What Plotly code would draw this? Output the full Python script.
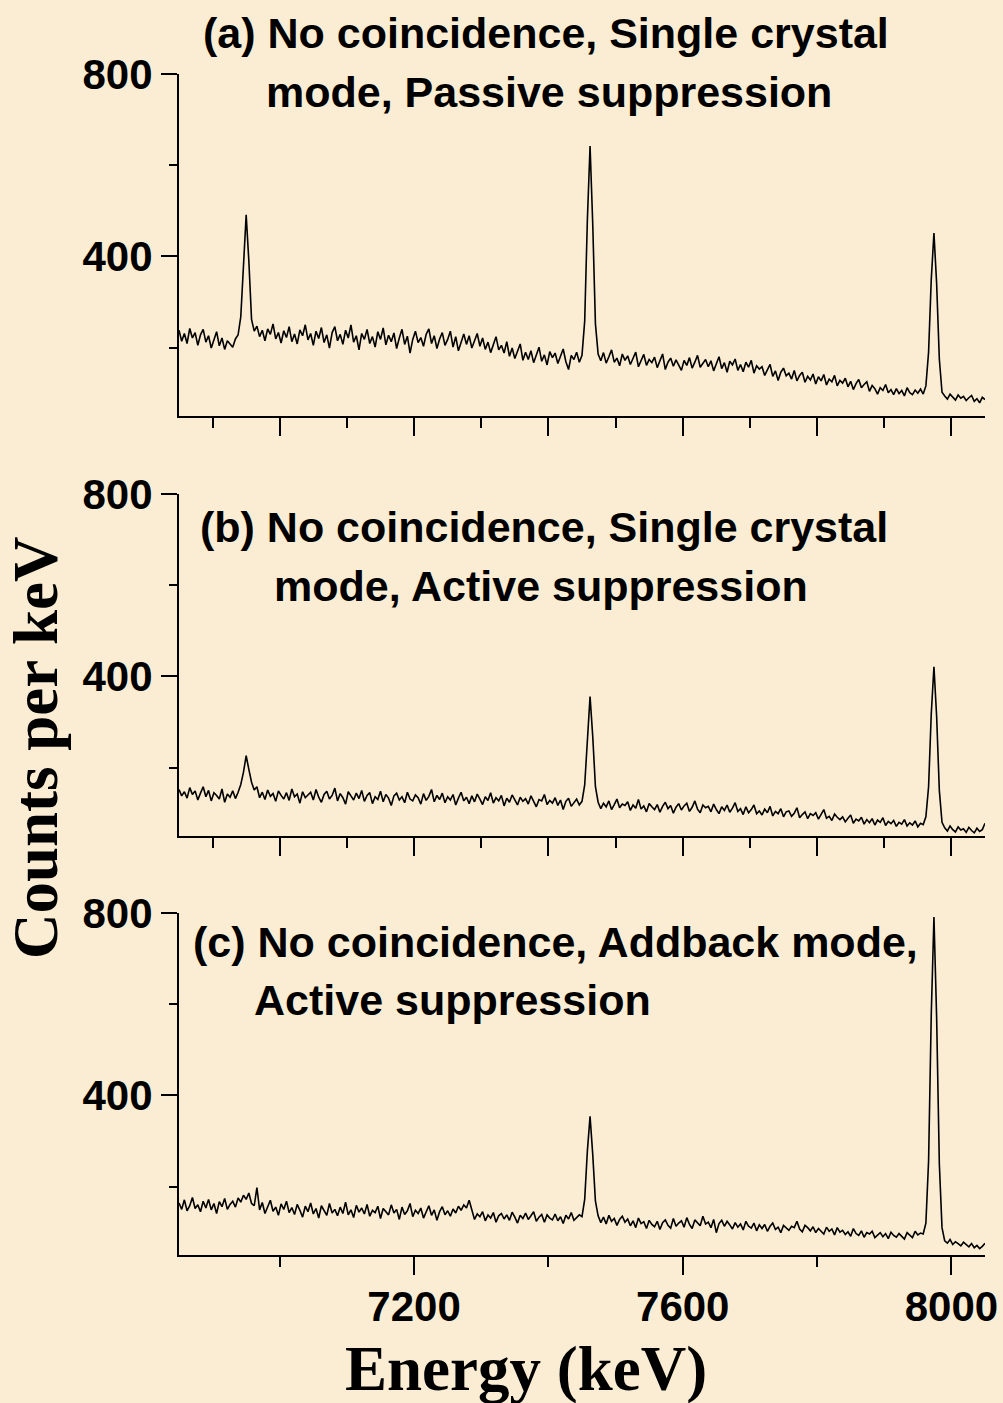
import plotly.graph_objects as go

# ---------------- data ----------------
ENERGY = list(range(6850, 8051, 4))  # channel energies (keV)

counts_a = [
    238, 214, 231, 209, 242, 221, 233, 205, 228, 240,
    212, 226, 199, 218, 235, 204, 221, 196, 215, 208,
    201, 219,
    228, 268, 395, 491, 390, 262, 236,
    247, 224, 238, 215, 241, 229, 252, 219, 233, 210, 237,
    222, 246, 213, 230, 208, 239, 226, 250, 217, 231,
    205, 236, 220, 244, 211, 228, 199, 233, 246, 215,
    229, 207, 238, 221, 250, 212, 226, 195, 231, 218,
    240, 209, 224, 201, 235, 218, 243, 206, 227, 213,
    232, 198, 221, 240, 207, 225, 188, 218, 236, 211,
    222, 203, 229, 241, 209, 226, 198, 219, 233, 205,
    218, 236, 201, 224, 193, 214, 230, 207, 226, 199,
    216, 231, 203, 221, 196, 212, 189, 208, 224, 195,
    205, 188, 213, 181, 199, 176, 194, 208, 172, 190,
    174, 193, 167, 186, 201, 170, 184, 162, 191, 178,
    188, 165, 181, 197, 169, 152, 183, 174, 190, 168,
    183, 258, 480, 642, 470, 252, 186,
    171, 189, 166, 180, 195, 168, 177, 160, 186, 172,
    182, 163, 176, 190, 158, 171, 185, 161, 174, 167,
    179, 156, 170, 186, 152, 168, 177, 159, 173, 163,
    150, 172, 161, 178, 155, 168, 183, 157, 166, 174,
    158, 171, 149, 165, 180, 154, 167, 146, 170, 162,
    175, 150, 163, 147, 168, 157, 172, 144, 160, 153,
    158, 139, 152, 163, 137, 149, 128, 146, 155, 138,
    144, 131, 150, 127, 139, 146, 124, 137, 129, 142,
    120, 136, 127, 141, 118, 131, 125, 139, 116, 128,
    122, 133, 114, 126, 108, 121, 130, 112, 119, 125,
    104, 117, 110, 98, 112, 106, 119, 101, 108, 97,
    110, 99, 106, 94, 112, 101, 97, 107,
    100, 109,
    98,
    116, 190, 350, 451, 340, 175, 102,
    94, 87, 98, 91, 85, 96, 89, 93, 84, 90, 95, 82, 88, 79, 91, 86,
]

counts_b = [
    152, 138, 147, 133, 156, 141, 149, 129, 144, 158,
    136, 150, 127, 145, 139, 131, 153, 124, 142, 135,
    149, 132, 146,
    163, 190, 226, 196, 168, 151,
    158, 134, 146, 130, 151, 137, 143, 126, 149, 139,
    131, 145, 128, 153, 136, 142, 122, 147, 134, 140,
    146, 129, 152, 135, 124, 141, 148, 131, 139, 155,
    127, 143, 134, 120, 147, 138, 129, 144, 132, 150,
    126, 139, 145, 121, 136, 130, 148, 125, 141, 133,
    117, 138, 144, 129, 136, 123, 146, 131, 127, 140,
    134, 120, 143, 128, 137, 152, 125, 139, 130, 144,
    123, 136, 129, 141, 118, 133, 146, 127, 135, 121,
    138, 125, 142, 131, 119, 136, 128, 145, 122, 134,
    127, 139, 116, 133, 124, 140, 129, 118, 135, 126,
    132, 120, 138, 125, 114, 130, 127, 141, 119, 128,
    122, 134, 117, 129, 108, 126, 133, 115, 124, 131,
    118, 126, 162, 272, 356, 268, 158, 124,
    110, 122, 114, 127, 108, 119, 131, 112, 120, 117,
    125, 106, 118, 111, 130, 109, 116, 103, 121, 114,
    108, 119, 102, 115, 124, 110, 117, 100, 113, 121,
    107, 116, 122, 104, 113, 127, 109, 101, 118, 112,
    115, 103, 120, 108, 99, 114, 106, 118, 102, 111,
    123, 104, 110, 97, 114, 101, 108, 118, 99, 105,
    96, 109, 101, 115, 94, 104, 99, 110, 92, 103,
    105, 93, 100, 112, 90, 97, 103, 88, 99, 95,
    101, 87, 96, 108, 89, 93, 84, 98, 91, 86,
    92, 81, 89, 96, 78, 87, 83, 91, 76, 86,
    79, 88, 74, 85, 80, 90, 73, 82, 77, 84,
    71, 80, 76, 86, 72, 79, 74, 83, 70, 78,
    75,
    92, 158, 318, 421, 312, 150, 80,
    68, 61, 72, 64, 59, 70, 63, 66, 58, 69, 62, 57, 67, 60, 64, 78,
]

counts_c = [
    164, 150, 171, 147, 158, 176, 152, 160, 145, 168,
    153, 172, 149, 163, 141, 167, 156, 174, 150, 161,
    168, 155, 175, 166, 181, 172, 186, 163, 158, 198,
    149, 165, 141, 158, 170, 146, 155, 137, 162, 150,
    168, 143, 154, 139, 161, 148, 133, 157, 145, 164,
    140, 152, 131, 158, 146, 137, 163, 142, 150, 136,
    155, 141, 166, 138, 149, 132, 159, 144, 153, 140,
    161, 135, 148, 143, 157, 130, 152, 145, 138, 160,
    142, 150, 128, 155, 139, 147, 163, 134, 148, 141,
    153, 131, 146, 158, 137, 149, 126, 145, 156, 138,
    147, 135, 151, 142, 157, 148, 160, 153, 170, 151,
    128, 140, 134, 145, 125, 138, 131, 143, 122, 136,
    141, 129, 138, 126, 144, 133, 120, 137, 130, 142,
    128, 136, 145, 124, 133, 139, 122, 138, 131, 127,
    140, 125, 134, 119, 137, 129, 143, 126, 133, 138,
    134, 172, 278, 354, 270, 168, 136,
    121, 133, 118, 137, 124, 130, 115, 128, 135, 122,
    129, 114, 125, 110, 131, 119, 123, 108, 126, 117,
    112, 124, 106, 121, 127, 115, 109, 130, 113, 120,
    125, 111, 132, 117, 108, 127, 121, 114, 135, 118,
    122, 110, 128, 99, 119, 126, 113, 124, 116, 107,
    121, 111, 118, 105, 124, 113, 109, 120, 103, 116,
    108, 117, 102, 113, 120, 106, 111, 99, 115, 109,
    104, 113, 110, 124, 107, 101, 115, 110, 103, 112,
    99, 108, 103, 96, 111, 102, 107, 94, 110, 100,
    104, 95, 101, 91, 108, 97, 93, 103, 89, 99,
    96, 102, 88, 94, 99, 90, 97, 86, 100, 93,
    89, 97, 92, 85, 99, 93, 88, 102, 94, 98,
    96,
    120, 256, 578, 791, 570, 250, 110,
    81, 76, 84, 73, 79, 75, 70, 78, 72, 68, 75, 66, 71, 64, 69, 76,
]

Y_TICKS = [400, 800]
Y_MINOR = [200, 600]
X_TICKS_C = [7200, 7600, 8000]
X_MINOR_C = [7000, 7400, 7800]
X_LABELS_C = ["7200", "7600", "8000"]

TITLES = {
    "a": ["(a) No coincidence, Single crystal", "mode, Passive suppression"],
    "b": ["(b) No coincidence, Single crystal", "mode, Active suppression"],
    "c": ["(c) No coincidence, Addback mode,", "Active suppression"],
}

# ---------------- figure ----------------
W, H = 1003, 1403
ML, MR, MT, MB = 179, 18, 74, 148
PW, PH = W - ML - MR, H - MT - MB


def px_x(p):
    return (p - ML) / PW


def px_y(p):
    return 1 - (p - MT) / PH


BG = "#FAEDD3"
SANS = "Liberation Sans, Arial, Helvetica, sans-serif"
SERIF = "Liberation Serif, Times New Roman, serif"

fig = go.Figure()
series = [counts_a, counts_b, counts_c]
for k, ys in enumerate(series):
    assert len(ys) == len(ENERGY), (k, len(ys))
    fig.add_trace(go.Scatter(
        x=ENERGY, y=ys, mode="lines",
        line=dict(color="black", width=1.6),
        xaxis="x" if k == 0 else f"x{k+1}",
        yaxis="y" if k == 0 else f"y{k+1}",
        showlegend=False, hoverinfo="skip",
    ))

domains = [
    (px_y(416), px_y(74)),
    (px_y(836), px_y(494)),
    (px_y(1255), px_y(913)),
]

tickfont = dict(family=SANS, size=42, color="black", weight="bold")

layout = dict(
    width=W, height=H,
    margin=dict(l=ML, r=MR, t=MT, b=MB, pad=0, autoexpand=False),
    paper_bgcolor=BG, plot_bgcolor=BG,
    showlegend=False,
)

for k in range(3):
    xa = "xaxis" if k == 0 else f"xaxis{k+1}"
    ya = "yaxis" if k == 0 else f"yaxis{k+1}"
    anchor_y = "y" if k == 0 else f"y{k+1}"
    anchor_x = "x" if k == 0 else f"x{k+1}"
    xdict = dict(
        domain=[0, 1], anchor=anchor_y, range=[6850, 8050], automargin=False,
        showline=True, linecolor="black", linewidth=2.2,
        showgrid=False, zeroline=False,
        ticks="outside", ticklen=18, tickwidth=2, tickcolor="black",
        tickfont=tickfont,
    )
    if k < 2:
        xdict.update(tickmode="linear", tick0=7000, dtick=200, showticklabels=False,
                     minor=dict(tickmode="linear", tick0=6900, dtick=100, ticks="outside",
                                ticklen=10, tickwidth=2, tickcolor="black", showgrid=False))
    else:
        xdict.update(tickmode="array", tickvals=X_TICKS_C, ticktext=X_LABELS_C,
                     showticklabels=True, ticklabelstandoff=-5,
                     minor=dict(tickmode="array", tickvals=X_MINOR_C, ticks="outside",
                                ticklen=10, tickwidth=2, tickcolor="black", showgrid=False))
    layout[xa] = xdict
    layout[ya] = dict(
        domain=list(domains[k]), anchor=anchor_x, range=[50, 800], automargin=False,
        showline=True, linecolor="black", linewidth=2.2,
        showgrid=False, zeroline=False,
        tickmode="array", tickvals=Y_TICKS, ticktext=[str(v) for v in Y_TICKS],
        ticks="outside", ticklen=16, tickwidth=2, tickcolor="black",
        tickfont=tickfont, ticklabelstandoff=0,
        minor=dict(tickmode="array", tickvals=Y_MINOR, ticks="outside",
                   ticklen=8, tickwidth=2, tickcolor="black", showgrid=False),
    )

fig.update_layout(**layout)

titlefont = dict(family=SANS, size=43, color="black", weight="bold")
title_pos = {
    "a": [(203, 33), (266, 92)],
    "b": [(200, 527), (274, 586)],
    "c": [(193, 942), (254, 1000)],
}
for key in ["a", "b", "c"]:
    for line, (lx, ly) in zip(TITLES[key], title_pos[key]):
        fig.add_annotation(text=line, xref="paper", yref="paper",
                           x=px_x(lx - 2), y=px_y(ly), xanchor="left", yanchor="middle",
                           showarrow=False, font=titlefont)

axisfont = dict(family=SERIF, size=63, color="black", weight="bold")
fig.add_annotation(text="Energy (keV)", xref="paper", yref="paper",
                   x=px_x(526), y=px_y(1369), xanchor="center", yanchor="middle",
                   showarrow=False, font=axisfont)
fig.add_annotation(text="Counts per keV", xref="paper", yref="paper",
                   x=px_x(36), y=px_y(748), xanchor="center", yanchor="middle",
                   textangle=-90, showarrow=False, font=axisfont)

fig.write_html("out.html")
